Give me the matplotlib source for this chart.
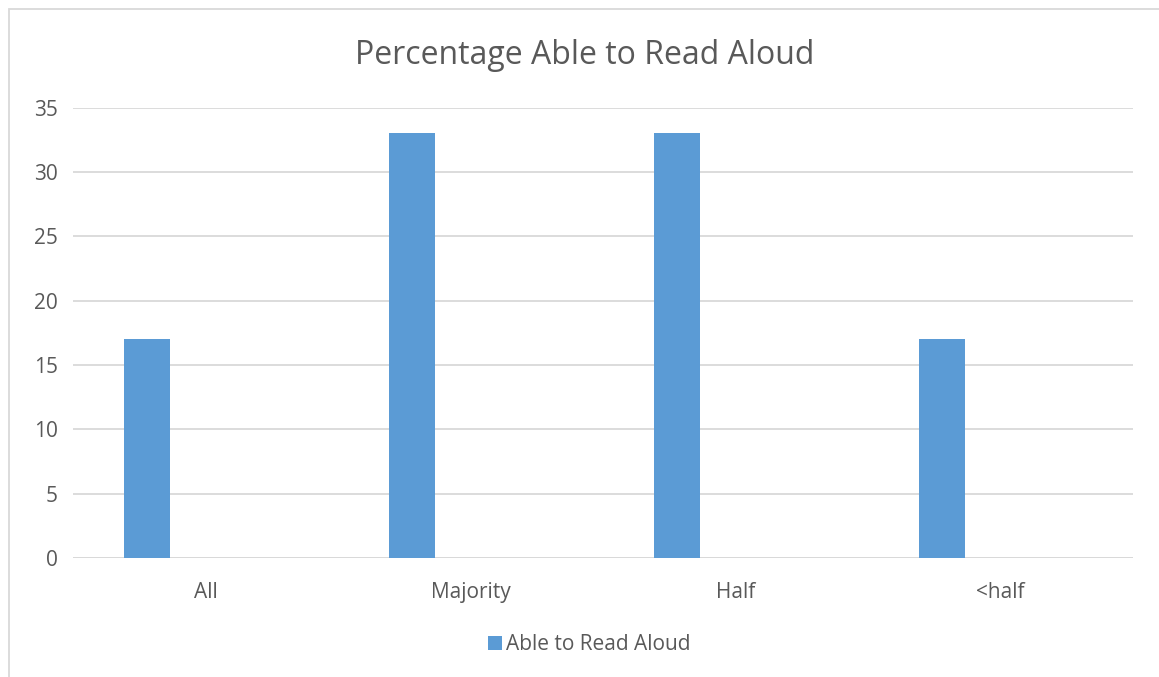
import matplotlib
matplotlib.use("Agg")
import matplotlib.pyplot as plt
from matplotlib.patches import Rectangle

categories = ["All", "Majority", "Half", "<half"]
values = [17, 33, 33, 17]
series_name = "Able to Read Aloud"
title = "Percentage Able to Read Aloud"
yticks = [0, 5, 10, 15, 20, 25, 30, 35]

TEXT = "#595959"
GRID = "#D9D9D9"
BAR = "#5B9BD5"

plt.rcParams["font.family"] = ["Open Sans", "DejaVu Sans"]

W, H = 1159, 677
fig = plt.figure(figsize=(W / 100, H / 100), dpi=100)
fig.patch.set_facecolor("white")

# chart frame (left and top edges visible)
fig.add_artist(Rectangle((8.5 / W, -0.1), 1.2, 1 - 8.5 / H + 0.1,
                         transform=fig.transFigure, fill=False,
                         edgecolor=GRID, linewidth=1.3))

ax = fig.add_axes([73 / W, 1 - 558 / H, (1133 - 73) / W, (558 - 107.5) / H])

x = list(range(len(categories)))
ax.bar([i - 0.22 for i in x], values, width=0.174, color=BAR, zorder=3)

ax.set_xlim(-0.5, len(categories) - 0.5)
ax.set_ylim(0, 35)
ax.set_yticks(yticks)
ax.set_xticks(x)
ax.set_xticklabels(categories)
ax.yaxis.grid(True, color=GRID, linewidth=1.3, zorder=0)
for s in ax.spines.values():
    s.set_visible(False)
ax.tick_params(axis="both", length=0, colors=TEXT, labelsize=15)
ax.tick_params(axis="y", pad=11)
ax.tick_params(axis="x", pad=17)
ax.axhline(0, color=GRID, linewidth=1.3, zorder=2)

fig.text(585 / W, 1 - 55 / H, title, ha="center", va="center",
         fontsize=23, color=TEXT)

# legend
fig.add_artist(Rectangle((488 / W, 1 - 650 / H), 14 / W, 14 / H,
                         transform=fig.transFigure, facecolor=BAR,
                         edgecolor="none"))
fig.text(506 / W, 1 - 645 / H, series_name, ha="left", va="center",
         fontsize=15, color=TEXT)

fig.savefig("out.png", dpi=100)
